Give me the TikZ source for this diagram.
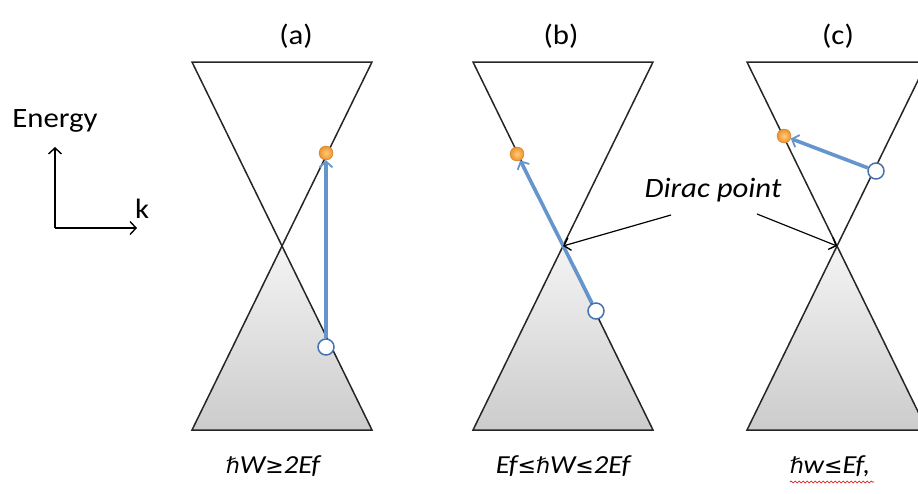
\documentclass[tikz,border=0pt]{standalone}
\usepackage{fontspec}
\setmainfont{Carlito}[FakeStretch=1.1]
\newfontfamily\symf{DejaVu Sans}
\newcommand\symtxt[1]{{\symf\fontsize{22}{26}\selectfont #1}}
\usetikzlibrary{arrows.meta,decorations.pathmorphing}
\definecolor{tblue}{RGB}{100,150,205}
\definecolor{hblue}{RGB}{70,115,175}
\definecolor{eorange}{RGB}{238,145,45}
\definecolor{elight}{RGB}{255,205,120}
\begin{document}
\begin{tikzpicture}[x=1pt,y=-1pt,
  coneline/.style={draw=black!85, line width=1.5pt, line join=miter},
  lowercone/.style={coneline, top color=gray!9, bottom color=gray!40},
  edot/.style={circle, inner sep=0pt, minimum size=14pt, draw=eorange!85!black, line width=0.4pt, inner color=elight, outer color=eorange},
  hdot/.style={circle, inner sep=0pt, minimum size=16pt, draw=hblue, line width=1.5pt, fill=white},
  trans/.style={draw=tblue, line width=3.6pt, -{Straight Barb[length=6pt,width=13pt,line width=1.8pt]}, shorten >=0pt},
  lbl/.style={font=\fontsize{28}{32}\selectfont, inner sep=0pt},
  captxt/.style={font=\fontsize{26}{30}\selectfont\itshape, inner sep=0pt},
  thinarrow/.style={draw=black, line width=1.2pt, -{Straight Barb[length=6pt,width=13pt,line width=1.4pt]}}
]
\useasboundingbox (0,0) rectangle (918,493);
\clip (0,0) rectangle (918,493);

% cones
\foreach \cx/\nm in {282/a,563/b,837/c}{
  \coordinate (apex\nm) at (\cx,246);
  \path[lowercone] (\cx,246) -- (\cx-90,430) -- (\cx+90,430) -- cycle;
  \path[coneline] (\cx-90,62) -- (\cx+90,62) -- (\cx,246) -- cycle;
}

% titles
\node[lbl] (ta) at (296,36) {(a)};
\node[lbl] (tb) at (561,36) {(b)};
\node[lbl] (tc) at (838,36) {(c)};

% axes
\node[lbl] (energy) at (55,121) {Energy};
\node[lbl] (kk) at (142,209) {k};
\coordinate (org) at (55,228);
\coordinate (eup) at (55,147);
\coordinate (kright) at (137,228);
\draw[thinarrow, line width=1.6pt] (org) -- (eup);
\draw[thinarrow, line width=1.6pt] (org) -- (kright);

% (a) vertical transition
\node[hdot] (ha) at (326,347) {};
\node[edot] (ea) at (326,153) {};
\draw[trans] (ha) -- (ea);

% (b) oblique transition
\node[hdot] (hb) at (596,311) {};
\node[edot] (eb) at (517,154) {};
\draw[trans] (hb) -- (eb);

% (c) intraband transition
\node[hdot] (hc) at (876,171) {};
\node[edot] (ec) at (784,136) {};
\draw[trans] (hc) -- (ec);

% Dirac point label
\node[captxt, font=\fontsize{28}{32}\selectfont\itshape] (dirac) at (713,190) {Dirac point};
\coordinate (dsb) at (671,215);
\coordinate (dsc) at (757,214);
\draw[thinarrow] (dsb) -- (apexb);
\draw[thinarrow] (dsc) -- (apexc);

% bottom captions
\node[captxt] (ca) at (273,466) {\symtxt{\itshape ℏ}W\symtxt{≥}2Ef};
\node[captxt] (cb) at (563,466) {Ef\symtxt{≤}\symtxt{\itshape ℏ}W\symtxt{≤}2Ef};
\node[captxt] (cc) at (830,466) {\symtxt{\itshape ℏ}w\symtxt{≤}Ef,};
\coordinate (wl) at (790,482);
\coordinate (wr) at (874,482);
\draw[red!85!black, line width=0.6pt, decorate, decoration={snake, amplitude=1pt, segment length=4pt}] (wl) -- (wr);
\end{tikzpicture}
\end{document}
